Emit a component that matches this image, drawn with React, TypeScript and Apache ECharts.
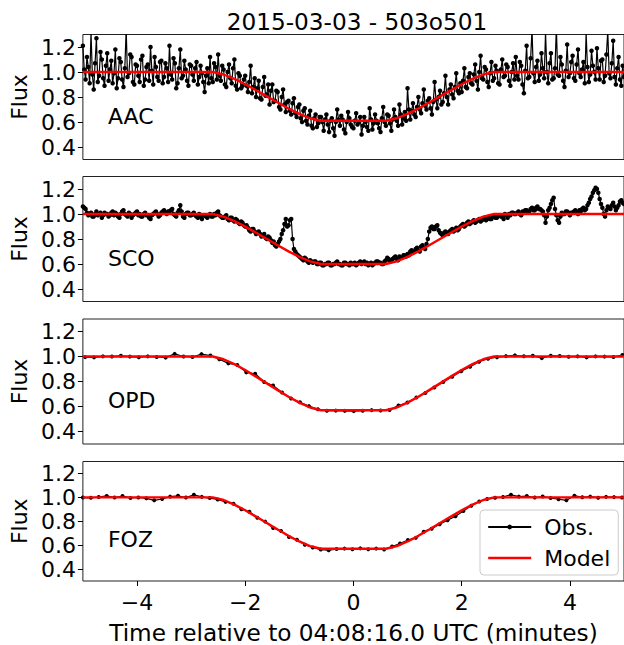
import React, { useEffect, useRef } from "react";
import * as echarts from "echarts";

const TITLE = "2015-03-03 - 503o501";
const STATIONS = ["AAC", "SCO", "OPD", "FOZ"];
const X_TICKS = [-4, -2, 0, 2, 4];
const Y_TICKS = [0.4, 0.6, 0.8, 1.0, 1.2];
const X_NAME = "Time relative to 04:08:16.0 UTC (minutes)";

// model curves (time in minutes, normalized flux)
const MODEL_TIME = [-5, -2.6, -2.4, -2.2, -2.0, -1.8, -1.6, -1.4, -1.2, -1.0, -0.8, -0.6, 0.6, 0.8, 1.0, 1.2, 1.4, 1.6, 1.8, 2.0, 2.2, 2.4, 2.6, 5];
const MODEL_AAC = [1, 1, 0.98, 0.945, 0.902, 0.854, 0.805, 0.756, 0.708, 0.665, 0.63, 0.61, 0.61, 0.63, 0.665, 0.708, 0.756, 0.805, 0.854, 0.902, 0.945, 0.98, 1, 1];
const MODEL_SCO = [1, 1, 0.979, 0.943, 0.899, 0.85, 0.8, 0.75, 0.701, 0.657, 0.621, 0.6, 0.6, 0.621, 0.657, 0.701, 0.75, 0.8, 0.85, 0.899, 0.943, 0.979, 1, 1];
const MODEL_OPD = [1, 1, 0.978, 0.939, 0.892, 0.839, 0.785, 0.731, 0.678, 0.631, 0.592, 0.57, 0.57, 0.592, 0.631, 0.678, 0.731, 0.785, 0.839, 0.892, 0.939, 0.978, 1, 1];
const MODEL_FOZ = [1, 1, 0.978, 0.939, 0.892, 0.839, 0.785, 0.731, 0.678, 0.631, 0.592, 0.57, 0.57, 0.592, 0.631, 0.678, 0.731, 0.785, 0.839, 0.892, 0.939, 0.978, 1, 1];

// observations: first time and cadence (minutes), then fluxes
const AAC_START = -5.0;
const AAC_STEP = 0.025;
const AAC_FLUX = [
  1.21, 1.02, 0.94, 1.12, 1.04, 0.91, 1.32, 0.98, 0.86, 1.07, 1.27, 0.92, 0.97, 1.16, 1.10, 0.95, 0.89, 1.05, 1.15, 0.93,
  1.02, 1.09, 0.91, 0.99, 1.18, 0.87, 0.95, 1.11, 1.08, 0.94, 0.88, 1.03, 1.34, 0.96, 0.99, 1.14, 1.12, 0.92, 0.90, 1.06,
  1.05, 0.97, 0.92, 1.10, 1.13, 0.89, 0.94, 1.04, 1.06, 0.93, 1.20, 1.01, 0.90, 1.12, 1.04, 0.96, 0.93, 1.08, 1.09, 0.91,
  0.96, 1.07, 1.03, 0.92, 1.21, 0.98, 0.94, 1.11, 1.07, 0.87, 0.91, 1.03, 1.18, 0.95, 0.97, 1.09, 1.02, 0.93, 0.89, 1.06,
  1.05, 0.98, 0.93, 1.03, 1.08, 0.90, 0.96, 1.05, 0.99, 0.92, 0.84, 0.97, 1.03, 0.91, 1.12, 0.95, 0.92, 1.07, 1.04, 0.94,
  1.14, 0.97, 0.93, 1.05, 1.02, 0.90, 0.88, 1.00, 1.06, 0.95, 0.91, 1.03, 1.10, 0.89, 0.86, 0.99, 0.97, 0.87, 0.89, 0.94,
  0.97, 0.89, 0.84, 0.92, 1.05, 0.83, 0.88, 0.95, 0.80, 0.87, 0.93, 0.79, 0.78, 0.88, 0.96, 0.81, 0.82, 0.90, 0.74, 0.85,
  0.90, 0.76, 0.77, 0.85, 0.84, 0.72, 0.70, 0.80, 0.86, 0.74, 0.68, 0.76, 0.77, 0.69, 0.66, 0.75, 0.79, 0.67, 0.64, 0.72,
  0.74, 0.63, 0.60, 0.69, 0.71, 0.61, 0.58, 0.65, 0.69, 0.57, 0.55, 0.63, 0.66, 0.56, 0.59, 0.64, 0.64, 0.60, 0.53, 0.62,
  0.66, 0.58, 0.52, 0.61, 0.63, 0.55, 0.49, 0.60, 0.70, 0.62, 0.57, 0.65, 0.62, 0.54, 0.51, 0.60, 0.68, 0.63, 0.58, 0.56,
  0.55, 0.61, 0.67, 0.58, 0.60, 0.64, 0.50, 0.57, 0.64, 0.60, 0.56, 0.53, 0.71, 0.62, 0.54, 0.59, 0.66, 0.61, 0.59, 0.55,
  0.52, 0.63, 0.72, 0.60, 0.57, 0.66, 0.65, 0.59, 0.53, 0.62, 0.70, 0.64, 0.61, 0.57, 0.74, 0.66, 0.58, 0.63, 0.68, 0.61,
  0.87, 0.70, 0.62, 0.69, 0.75, 0.66, 0.64, 0.72, 0.80, 0.70, 0.67, 0.75, 0.86, 0.73, 0.70, 0.77, 0.79, 0.71, 0.66, 0.76,
  0.92, 0.78, 0.71, 0.80, 0.85, 0.74, 0.76, 0.83, 0.97, 0.80, 0.74, 0.86, 0.90, 0.82, 0.79, 0.88, 0.99, 0.85, 0.83, 0.91,
  0.84, 0.93, 1.03, 0.88, 0.87, 0.96, 0.99, 0.91, 0.90, 0.98, 1.06, 0.93, 0.86, 1.00, 1.13, 0.95, 0.94, 1.04, 1.02, 0.92,
  0.88, 0.99, 1.08, 0.93, 0.95, 1.05, 1.01, 0.91, 0.90, 1.02, 1.10, 0.96, 0.97, 1.06, 1.04, 0.93, 0.89, 1.00, 1.07, 0.94,
  1.12, 0.97, 0.94, 1.08, 1.05, 0.90, 0.83, 1.01, 1.21, 0.95, 0.96, 1.11, 1.34, 0.99, 0.92, 1.04, 1.09, 0.93, 0.98, 1.15,
  1.03, 0.95, 1.32, 1.00, 0.91, 1.07, 1.15, 0.94, 0.95, 1.03, 1.36, 0.98, 0.97, 1.12, 1.06, 0.93, 0.88, 1.01, 1.22, 0.96,
  0.99, 1.08, 1.13, 0.95, 0.93, 1.06, 1.18, 0.99, 0.96, 1.02, 1.08, 0.91, 1.31, 1.04, 0.92, 0.98, 1.17, 1.05, 1.00, 0.94,
  1.19, 1.03, 0.94, 1.09, 1.10, 0.92, 0.97, 1.14, 1.33, 0.99, 0.95, 1.07, 1.25, 0.96, 0.90, 1.03, 1.12, 0.94, 0.89, 1.05, 0.96,
];

const SCO_START = -5.0;
const SCO_STEP = 0.025;
const SCO_FLUX = [
  1.06, 1.05, 1.04, 1.01, 0.99, 1.00, 1.01, 0.98, 0.98, 1.00, 1.02, 0.99, 1.00, 1.01, 0.97, 0.99, 1.01, 1.00, 1.00, 0.98,
  0.99, 1.01, 1.02, 0.99, 1.01, 1.00, 0.98, 0.97, 1.00, 1.02, 1.03, 1.00, 0.99, 0.98, 1.01, 1.00, 0.97, 0.99, 1.00, 1.01,
  1.02, 0.99, 1.00, 0.98, 0.98, 1.00, 1.01, 0.99, 0.99, 0.97, 0.96, 0.99, 1.00, 1.01, 1.02, 1.00, 0.98, 0.99, 1.01, 1.02,
  1.03, 1.01, 1.00, 1.02, 1.02, 1.03, 1.04, 1.00, 0.99, 0.98, 1.01, 1.03, 1.07, 1.02, 0.98, 0.97, 1.00, 1.01, 1.01, 0.99,
  0.99, 1.00, 1.01, 0.99, 0.98, 0.97, 1.00, 0.98, 0.96, 0.99, 0.99, 0.98, 0.97, 0.99, 1.00, 0.98, 0.98, 1.00, 0.99, 1.01,
  1.02, 0.99, 0.98, 0.97, 0.97, 0.98, 0.99, 0.96, 0.95, 0.97, 0.97, 0.95, 0.94, 0.96, 0.95, 0.93, 0.92, 0.94, 0.93, 0.91,
  0.90, 0.91, 0.89, 0.87, 0.86, 0.88, 0.88, 0.86, 0.84, 0.85, 0.86, 0.84, 0.82, 0.83, 0.84, 0.81, 0.80, 0.82, 0.81, 0.79,
  0.77, 0.78, 0.75, 0.74, 0.76, 0.78, 0.80, 0.84, 0.87, 0.92, 0.96, 0.90, 0.91, 0.95, 0.96, 0.80, 0.72, 0.70, 0.68, 0.67,
  0.66, 0.65, 0.64, 0.63, 0.65, 0.64, 0.62, 0.61, 0.63, 0.62, 0.61, 0.62, 0.62, 0.60, 0.60, 0.61, 0.61, 0.59, 0.59, 0.60,
  0.60, 0.61, 0.61, 0.59, 0.59, 0.60, 0.60, 0.61, 0.62, 0.60, 0.60, 0.59, 0.59, 0.61, 0.61, 0.60, 0.60, 0.59, 0.61, 0.60,
  0.60, 0.61, 0.59, 0.60, 0.61, 0.62, 0.60, 0.61, 0.62, 0.60, 0.61, 0.59, 0.60, 0.61, 0.59, 0.60, 0.61, 0.62, 0.62, 0.61,
  0.61, 0.60, 0.60, 0.62, 0.63, 0.65, 0.64, 0.62, 0.63, 0.64, 0.65, 0.66, 0.64, 0.63, 0.66, 0.65, 0.65, 0.67, 0.67, 0.66,
  0.68, 0.67, 0.70, 0.71, 0.69, 0.70, 0.72, 0.73, 0.71, 0.70, 0.74, 0.75, 0.73, 0.72, 0.76, 0.80, 0.86, 0.89, 0.90, 0.88,
  0.88, 0.90, 0.91, 0.87, 0.85, 0.84, 0.83, 0.85, 0.86, 0.85, 0.84, 0.86, 0.87, 0.88, 0.86, 0.87, 0.89, 0.87, 0.88, 0.90,
  0.91, 0.92, 0.90, 0.91, 0.93, 0.94, 0.92, 0.93, 0.94, 0.95, 0.93, 0.94, 0.95, 0.96, 0.94, 0.95, 0.96, 0.97, 0.95, 0.96,
  0.97, 0.96, 0.96, 0.98, 0.98, 0.97, 0.97, 0.99, 0.99, 0.98, 0.98, 0.96, 1.00, 0.99, 0.97, 1.00, 0.99, 1.01, 1.01, 1.00,
  1.00, 1.01, 1.02, 1.00, 0.99, 1.02, 1.01, 1.03, 1.03, 1.02, 1.02, 1.04, 1.05, 1.03, 1.03, 1.05, 1.06, 1.04, 1.04, 1.03,
  1.02, 0.99, 0.93, 0.98, 1.03, 1.05, 1.08, 1.11, 1.13, 1.04, 0.99, 0.95, 0.93, 0.98, 1.01, 1.00, 1.00, 1.02, 1.02, 1.01,
  0.99, 1.01, 1.01, 1.02, 1.03, 1.01, 1.00, 1.03, 1.02, 1.04, 1.05, 1.03, 1.04, 1.07, 1.09, 1.12, 1.14, 1.17, 1.19, 1.21,
  1.20, 1.17, 1.12, 1.08, 1.05, 1.00, 0.98, 1.03, 1.06, 1.05, 1.04, 1.07, 1.09, 1.06, 1.03, 1.05, 1.07, 1.10, 1.11, 1.09, 1.08,
];

const OPD_START = -4.96;
const OPD_STEP = 0.1655;
const OPD_FLUX = [
  0.995, 0.993, 1.001, 1.0, 1.006, 0.999, 0.994, 1.001, 0.996, 0.991,
  1.021, 1.0, 0.996, 1.019, 1.008, 0.978, 0.945, 0.932, 0.873, 0.862,
  0.796, 0.768, 0.712, 0.664, 0.634, 0.603, 0.578, 0.566, 0.567, 0.565,
  0.563, 0.566, 0.571, 0.568, 0.572, 0.608, 0.632, 0.672, 0.708, 0.752,
  0.796, 0.838, 0.882, 0.918, 0.958, 0.982, 0.994, 1.003, 1.009, 1.002,
  1.006, 0.987, 1.006, 1.004, 0.998, 1.001, 0.993, 1.001, 0.999, 0.996,
  1.012,
];

const FOZ_START = -5.0;
const FOZ_STEP = 0.1465;
const FOZ_FLUX = [
  0.998, 0.996, 1.003, 1.012, 0.998, 1.011, 0.995, 0.999, 0.992, 0.975,
  0.986, 1.006, 1.013, 0.998, 1.021, 1.004, 0.994, 0.982, 0.962, 0.947,
  0.901, 0.879, 0.829, 0.797, 0.744, 0.718, 0.668, 0.645, 0.604, 0.581,
  0.563, 0.558, 0.567, 0.571, 0.566, 0.573, 0.566, 0.571, 0.563, 0.588,
  0.614, 0.643, 0.661, 0.713, 0.738, 0.775, 0.808, 0.842, 0.886, 0.93,
  0.966, 0.987, 0.996, 1.003, 1.022, 1.006, 1.011, 0.998, 1.007, 0.995,
  0.984, 0.975, 1.014, 1.001, 1.006, 0.997, 1.004, 1.002, 0.998,
];

const PANELS = [
  { start: AAC_START, step: AAC_STEP, flux: AAC_FLUX, model: MODEL_AAC, dot: 4.5 },
  { start: SCO_START, step: SCO_STEP, flux: SCO_FLUX, model: MODEL_SCO, dot: 4.5 },
  { start: OPD_START, step: OPD_STEP, flux: OPD_FLUX, model: MODEL_OPD, dot: 4 },
  { start: FOZ_START, step: FOZ_STEP, flux: FOZ_FLUX, model: MODEL_FOZ, dot: 4 },
];

const GRID_LEFT = 79;
const GRID_WIDTH = 546;
const GRID_TOPS = [34.5, 176.5, 319, 461.5];
const GRID_HEIGHT = 125;
const FONT = "DejaVu Sans";
const FS = 22;
const FS_BIG = 23.2;

const minus = (v: number) => (v < 0 ? "\u2212" + Math.abs(v) : String(v));

export default function App() {
  const ref = useRef<HTMLDivElement>(null);
  useEffect(() => {
    document.body.style.margin = "0";
    if (!ref.current) return;
    const chart = echarts.init(ref.current, undefined, { renderer: "svg" });

    const grids = GRID_TOPS.map((top) => ({
      left: GRID_LEFT,
      top,
      width: GRID_WIDTH,
      height: GRID_HEIGHT,
      show: true,
      borderColor: "#222",
      borderWidth: 1,
      backgroundColor: "transparent",
    }));

    const xAxes = GRID_TOPS.map((_, i) => {
      const last = i === GRID_TOPS.length - 1;
      return {
        type: "value",
        gridIndex: i,
        min: -5,
        max: 5,
        axisLine: { show: false, onZero: false },
        splitLine: { show: false },
        axisTick: {
          show: last,
          length: 5,
          customValues: X_TICKS,
          lineStyle: { color: "#000" },
        },
        axisLabel: {
          show: last,
          customValues: X_TICKS,
          formatter: (v: number) => minus(v),
          fontSize: FS,
          color: "#000",
          fontFamily: FONT,
          margin: 10,
        },
        name: last ? X_NAME : "",
        nameLocation: "middle",
        nameGap: 40,
        nameTextStyle: { fontSize: FS_BIG, color: "#000", fontFamily: FONT },
      };
    });

    const yAxes = GRID_TOPS.map((_, i) => ({
      type: "value",
      gridIndex: i,
      min: 0.3,
      max: 1.3,
      axisLine: { show: false, onZero: false },
      splitLine: { show: false },
      axisTick: {
        show: true,
        length: 5,
        customValues: Y_TICKS,
        lineStyle: { color: "#000" },
      },
      axisLabel: {
        customValues: Y_TICKS,
        formatter: (v: number) => v.toFixed(1),
        fontSize: FS,
        color: "#000",
        fontFamily: FONT,
        margin: 7,
      },
      name: "Flux",
      nameLocation: "middle",
      nameGap: 48,
      nameRotate: 90,
      nameTextStyle: { fontSize: FS, color: "#000", fontFamily: FONT },
    }));

    const series: any[] = [];
    PANELS.forEach((p, i) => {
      series.push({
        name: "Obs.",
        type: "line",
        xAxisIndex: i,
        yAxisIndex: i,
        data: p.flux.map((f, k) => [p.start + k * p.step, f]),
        symbol: "circle",
        symbolSize: p.dot,
        showAllSymbol: true,
        lineStyle: { color: "#000", width: 1.2 },
        itemStyle: { color: "#000" },
        clip: true,
        z: 2,
      });
      series.push({
        name: "Model",
        type: "line",
        xAxisIndex: i,
        yAxisIndex: i,
        data: MODEL_TIME.map((t, k) => [t, p.model[k]]),
        symbol: "none",
        lineStyle: { color: "#ff0000", width: 2.4 },
        itemStyle: { color: "#ff0000" },
        clip: true,
        z: 3,
      });
    });

    chart.setOption({
      animation: false,
      textStyle: { fontFamily: FONT },
      title: {
        text: TITLE,
        left: GRID_LEFT + GRID_WIDTH / 2,
        textAlign: "center",
        top: 5,
        textStyle: { fontSize: FS_BIG, fontWeight: "normal", color: "#000", fontFamily: FONT },
      },
      legend: {
        data: [
          { name: "Obs." },
          {
            name: "Model",
            itemStyle: { opacity: 0 },
            lineStyle: { color: "#ff0000", width: 2.4, opacity: 1 },
          },
        ],
        orient: "vertical",
        left: 480,
        top: 510,
        itemWidth: 43,
        itemHeight: 6,
        itemGap: 9,
        padding: [6, 8, 6, 7],
        borderColor: "#ccc",
        borderWidth: 1,
        borderRadius: 4,
        backgroundColor: "rgba(255,255,255,0.8)",
        textStyle: { fontSize: FS, color: "#000", fontFamily: FONT, padding: [0, 0, 0, 8] },
      },
      grid: grids,
      xAxis: xAxes,
      yAxis: yAxes,
      series,
    });

    const graphics = STATIONS.map((name, i) => {
      const pt = chart.convertToPixel({ gridIndex: i } as any, [-4.5, 0.6]) as number[];
      return {
        type: "text",
        x: pt[0] - 2,
        y: pt[1] + 5,
        style: {
          text: name,
          fontSize: FS,
          fontFamily: FONT,
          fill: "#000",
          align: "left",
          verticalAlign: "bottom",
        },
        z: 10,
      };
    });
    chart.setOption({ graphic: graphics });

    return () => chart.dispose();
  }, []);
  return (
    <div
      ref={ref}
      style={{ position: "absolute", left: 0, top: 0, width: 624, height: 645 }}
    />
  );
}
